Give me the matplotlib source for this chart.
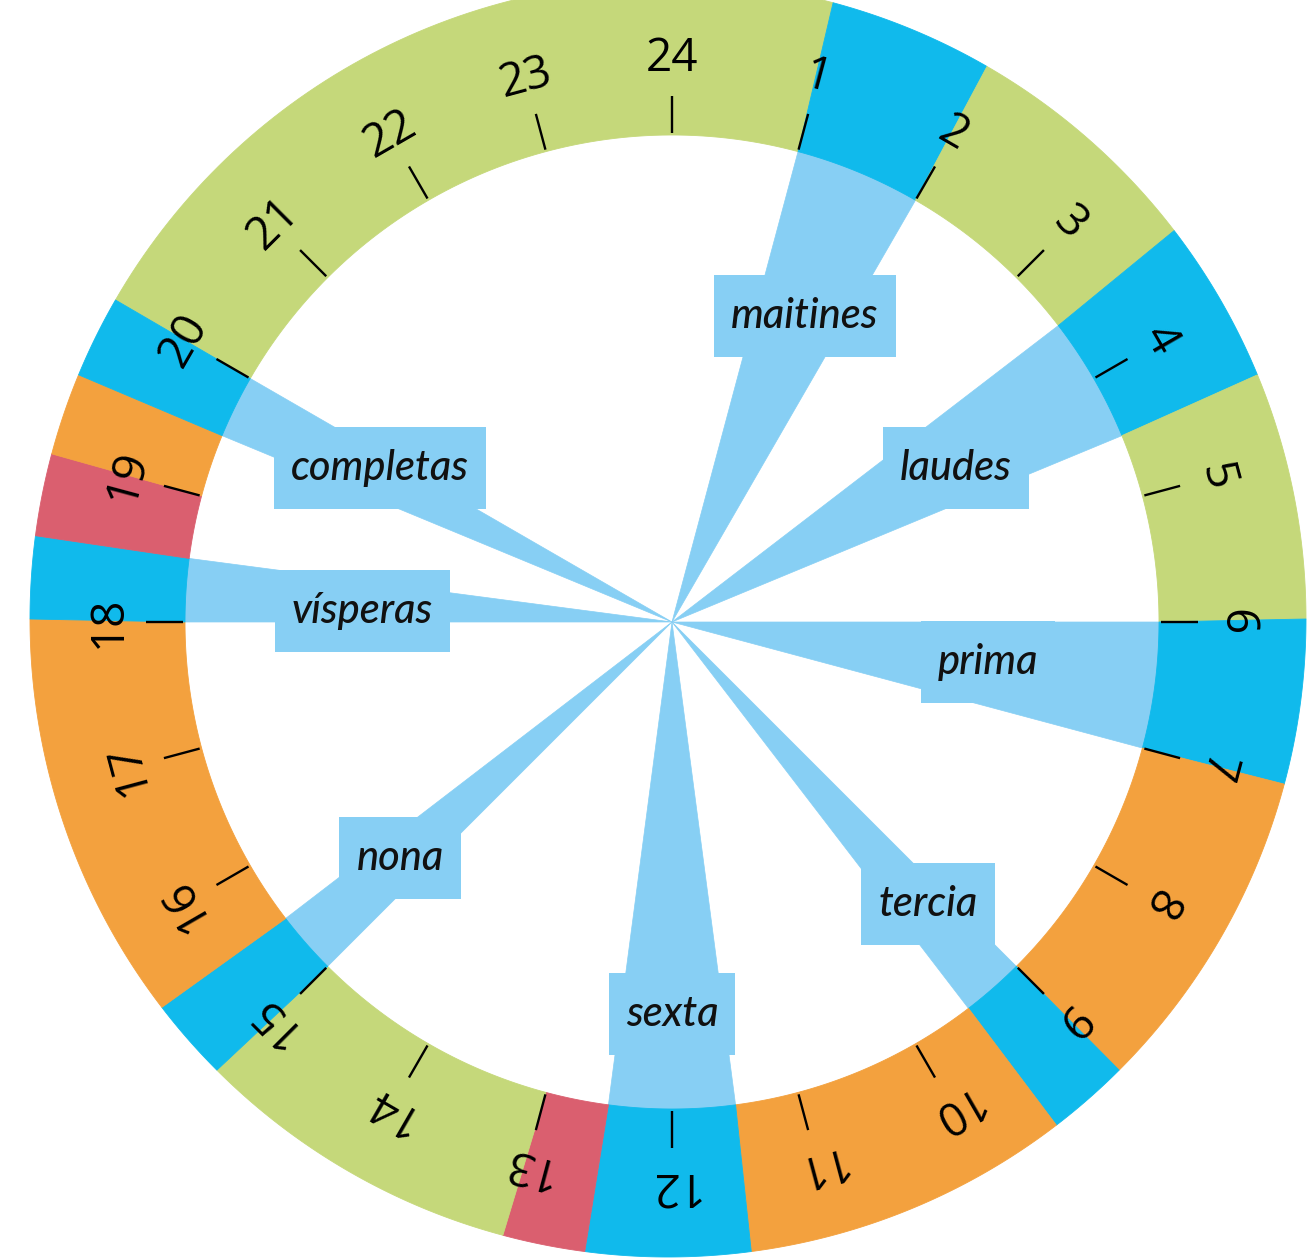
import numpy as np
import matplotlib
matplotlib.use("Agg")
import matplotlib.pyplot as plt
from matplotlib.patches import Polygon, Rectangle

# ---------------- data ----------------
hours = list(range(1, 25))
hour_labels = [str(h) for h in hours]

seg_start = [20, 1, 2, 3.5, 4.5, 6, 7, 9, 9.5, 11.5, 12.5, 13, 15, 15.5, 18, 18.5, 19, 19.5]
seg_end = [25, 2, 3.5, 4.5, 6, 7, 9, 9.5, 11.5, 12.5, 13, 15, 15.5, 18, 18.5, 19, 19.5, 20]
seg_kind = ["green", "blue", "green", "blue", "green", "blue", "orange", "blue", "orange",
            "blue", "red", "green", "blue", "orange", "blue", "red", "orange", "blue"]

offices = ["maitines", "laudes", "prima", "tercia", "sexta", "nona", "vísperas", "completas"]
office_start = [1, 3.5, 6, 9, 11.5, 15, 18, 19.5]
office_end = [2, 4.5, 7, 9.5, 12.5, 15.5, 18.5, 20]

# ---------------- layout / style ----------------
COLORS = {"green": "#C5D87A", "blue": "#10BAEC", "orange": "#F3A13E", "red": "#DA5F6F"}
LIGHT = "#87CFF4"
C_IN = (672, 622)
R_IN = 487
C_OUT = (668, 619)
R_OUT = 638
label_hour = [1.566, 4.102, 6.481, 9.188, 12.0, 15.274, 18.136, 19.854]
label_radius = [333.7, 323, 318.5, 381.2, 391.5, 359.8, 309.7, 330.1]
BOX_PADX = 17
BOX_H = 82


def pt(c, r, h):
    t = np.radians(h * 15.0)
    return c[0] + r * np.sin(t), c[1] - r * np.cos(t)


fig = plt.figure(figsize=(13.07, 12.60), dpi=100)
ax = fig.add_axes([0, 0, 1, 1])
ax.set_xlim(0, 1307)
ax.set_ylim(1260, 0)
ax.axis("off")

# light-blue wedges from the centre
for a, b in zip(office_start, office_end):
    hs = np.linspace(a, b, 40)
    verts = [C_IN] + [pt(C_IN, R_IN + 3, h) for h in hs]
    ax.add_patch(Polygon(verts, closed=True, fc=LIGHT, ec=LIGHT, lw=0.5, zorder=1))

# ring segments
for a, b, k in zip(seg_start, seg_end, seg_kind):
    hs = np.linspace(a, b, 80)
    inner = [pt(C_IN, R_IN, h) for h in hs]
    outer = [pt(C_OUT, R_OUT, h) for h in hs[::-1]]
    ax.add_patch(Polygon(inner + outer, closed=True, fc=COLORS[k], ec=COLORS[k], lw=0.6, zorder=2))

# ticks and hour numbers
for h, lab in zip(hours, hour_labels):
    x0, y0 = pt(C_IN, 489, h)
    x1, y1 = pt(C_IN, 526, h)
    ax.plot([x0, x1], [y0, y1], color="black", lw=1.7, zorder=4, solid_capstyle="butt")
    tx, ty = pt(C_IN, 563, h)
    ax.text(tx, ty, lab, ha="center", va="center", rotation=-15 * h,
            rotation_mode="anchor", fontsize=33,
            family=["Open Sans", "DejaVu Sans"], color="black", zorder=4)

# office labels
texts = []
for name, lh, r in zip(offices, label_hour, label_radius):
    mx, my = pt(C_IN, r, lh)
    t = ax.text(mx, my, name, ha="center", va="center", fontsize=30, style="italic",
                fontweight="medium", family=["Lato", "DejaVu Sans"], color="#111111", zorder=5)
    texts.append((t, mx, my))

fig.canvas.draw()
renderer = fig.canvas.get_renderer()
for t, mx, my in texts:
    bb = t.get_window_extent(renderer=renderer)
    w = bb.width  # pixels == data units here
    ax.add_patch(Rectangle((mx - w / 2 - BOX_PADX, my - BOX_H / 2), w + 2 * BOX_PADX, BOX_H,
                           fc=LIGHT, ec="none", zorder=3))

fig.savefig("out.png", dpi=100)
